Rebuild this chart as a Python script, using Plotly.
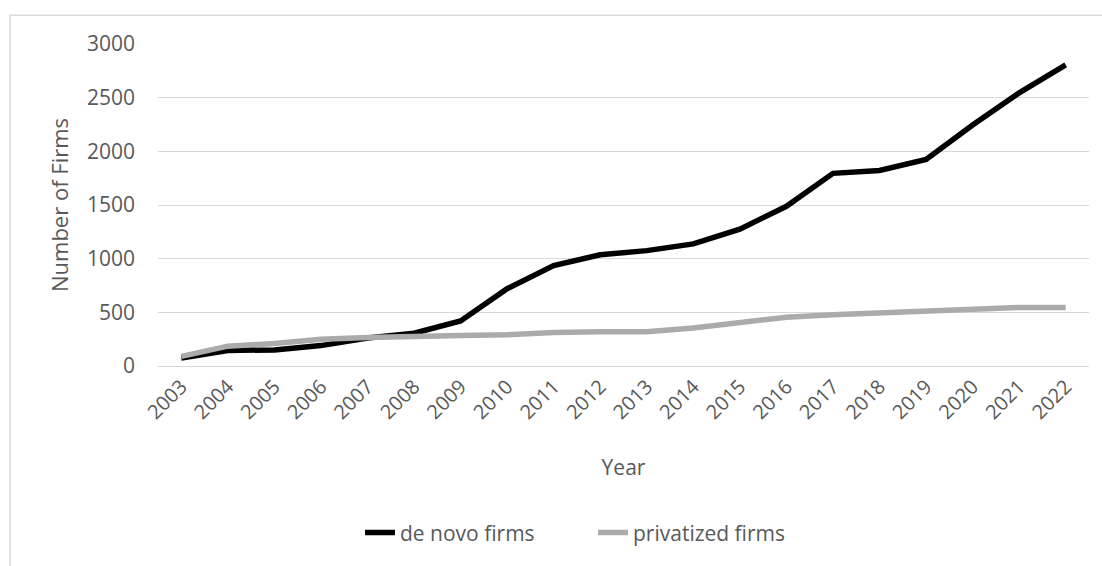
import plotly.graph_objects as go

years = [str(y) for y in range(2003, 2023)]
de_novo = [75, 145, 150, 190, 260, 305, 420, 720, 935, 1037, 1075, 1138, 1275, 1488, 1795, 1822, 1924, 2245, 2545, 2805]
privatized = [90, 185, 210, 250, 265, 280, 285, 290, 312, 318, 320, 355, 410, 455, 478, 495, 512, 532, 545, 546]
y_ticks = [0, 500, 1000, 1500, 2000, 2500, 3000]

FONT = "Open Sans"
TXT = "#595959"

fig = go.Figure()
fig.add_trace(go.Scatter(x=years, y=de_novo, mode="lines", name="de novo firms",
                         line=dict(color="#000000", width=5.5)))
fig.add_trace(go.Scatter(x=years, y=privatized, mode="lines", name="privatized firms",
                         line=dict(color="#ababab", width=5.5)))

fig.update_layout(
    width=1102, height=566,
    margin=dict(l=158, r=13, t=44, b=198),
    paper_bgcolor="white", plot_bgcolor="white",
    font=dict(family=FONT, color=TXT, size=21),
    showlegend=True,
    legend=dict(orientation="h", x=(360 - 158) / 931, y=-0.518, xanchor="left", yanchor="middle",
                font=dict(size=21, color=TXT), itemwidth=30, entrywidth=188, tracegroupgap=0),
    xaxis=dict(type="category", range=[-0.5, 19.5], tickangle=-45,
               showgrid=False, showline=True, linecolor="#d9d9d9", linewidth=1,
               ticks="", tickfont=dict(size=20, color=TXT),
               title=dict(text="Year", font=dict(size=21, color=TXT), standoff=36)),
    yaxis=dict(range=[0, 3000], tickvals=y_ticks, showgrid=True, gridcolor="#d9d9d9",
               gridwidth=1, zeroline=False, showline=False, ticks="",
               ticklabelstandoff=22, tickfont=dict(size=21, color=TXT),
               title=dict(text="Number of Firms", font=dict(size=22, color=TXT), standoff=12)),
    shapes=[dict(type="rect", xref="paper", yref="paper",
                 x0=-148/931, x1=1.2, y0=-2.0, y1=1 + 29/324,
                 line=dict(color="#d9d9d9", width=1.5), fillcolor="rgba(0,0,0,0)", layer="below")],
)

fig.write_html("out.html", config={"displayModeBar": False},
               post_script="document.body.style.margin='0px';")
